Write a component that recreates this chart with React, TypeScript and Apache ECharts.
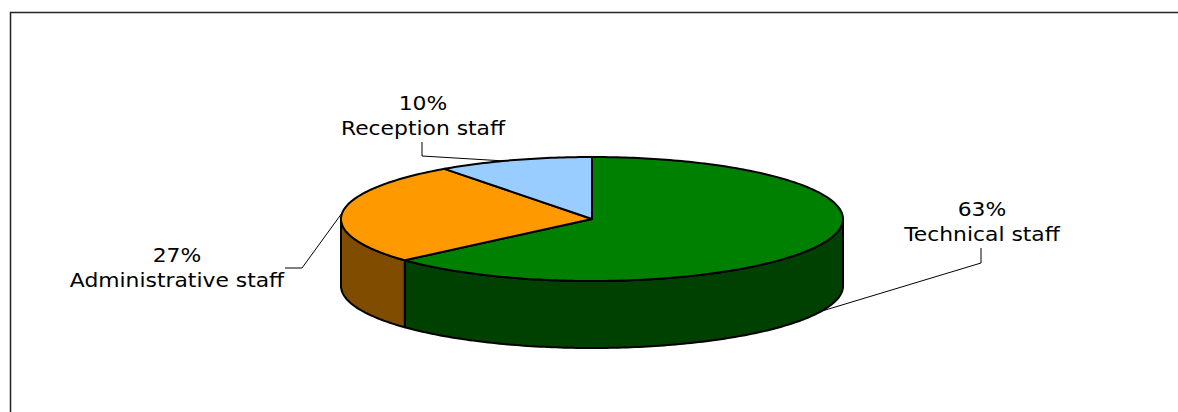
import React, { useEffect, useRef } from "react";
import * as echarts from "echarts";

const categories = ["Technical staff", "Administrative staff", "Reception staff"];
const shares = [63.4, 26.6, 10];
const topColors = ["#008000", "#FF9900", "#99CCFF"];
const wallColors = ["#004000", "#804D00", "#4D6680"];

const labelLayout: Record<string, { x: number; y: number; line: number[][] }> = {
  "Technical staff": { x: 982, y: 197, line: [[981, 248], [981, 263], [822, 311]] },
  "Administrative staff": { x: 177, y: 243, line: [[285, 268], [302, 268], [342, 213]] },
  "Reception staff": { x: 423, y: 91, line: [[422, 142], [422, 156], [505, 161]] },
};

const CX = 592;
const CY = 219;
const RX = 251;
const RY = 62;
const DEPTH = 67;

const total = shares.reduce((a, b) => a + b, 0);
const startOf = (i: number) => (shares.slice(0, i).reduce((a, b) => a + b, 0) / total) * Math.PI * 2;
const pt = (a: number, dy = 0) => [CX + RX * Math.sin(a), CY - RY * Math.cos(a) + dy];
const arc = (a0: number, a1: number, dy = 0) => {
  const n = Math.max(2, Math.ceil(Math.abs(a1 - a0) * 60));
  const out: number[][] = [];
  for (let k = 0; k <= n; k++) out.push(pt(a0 + ((a1 - a0) * k) / n, dy));
  return out;
};

const renderWall = (params: any) => {
  const i = params.dataIndex;
  const a0 = Math.max(startOf(i), Math.PI / 2);
  const a1 = Math.min(startOf(i + 1), (Math.PI * 3) / 2);
  if (a1 <= a0) return { type: "group", children: [] };
  const points = [...arc(a0, a1), ...arc(a1, a0, DEPTH)];
  return {
    type: "polygon",
    shape: { points },
    style: { fill: wallColors[i], stroke: "#000", lineWidth: 2 },
  };
};

const renderTop = (params: any) => {
  const i = params.dataIndex;
  const points = [[CX, CY], ...arc(startOf(i), startOf(i + 1))];
  return {
    type: "polygon",
    shape: { points },
    style: { fill: topColors[i], stroke: "#000", lineWidth: 2, lineJoin: "round" },
  };
};

const renderLabel = (params: any) => {
  const i = params.dataIndex;
  const name = categories[i];
  const l = labelLayout[name];
  return {
    type: "group",
    children: [
      {
        type: "polyline",
        shape: { points: l.line },
        style: { fill: "none", stroke: "#000", lineWidth: 1 },
      },
      {
        type: "text",
        x: l.x,
        y: l.y,
        scaleX: 1.15,
        style: {
          text: `${Math.round(shares[i])}%\n${name}`,
          fill: "#000",
          font: '19px "DejaVu Sans"',
          lineHeight: 25,
          align: "center",
          verticalAlign: "top",
        },
      },
    ],
  };
};

export default function App() {
  const ref = useRef<HTMLDivElement>(null);
  useEffect(() => {
    const chart = echarts.init(ref.current!, null, { renderer: "svg" });
    const data = shares.map((v, i) => ({ name: categories[i], value: v }));
    chart.setOption({
      animation: false,
      backgroundColor: "#fff",
      graphic: [
        {
          type: "polyline",
          shape: { points: [[10.5, 412], [10.5, 12.5], [1178, 12.5]] },
          style: { fill: "none", stroke: "#222", lineWidth: 1.5 },
          silent: true,
        },
      ],
      series: [
        { type: "custom", coordinateSystem: "none", renderItem: renderLabel, data, z: 1, silent: true },
        { type: "custom", coordinateSystem: "none", renderItem: renderWall, data, z: 2, silent: true },
        { type: "custom", coordinateSystem: "none", renderItem: renderTop, data, z: 3, silent: true },
      ],
    });
    return () => chart.dispose();
  }, []);
  return <div ref={ref} style={{ position: "fixed", left: 0, top: 0, width: 1178, height: 412 }} />;
}
